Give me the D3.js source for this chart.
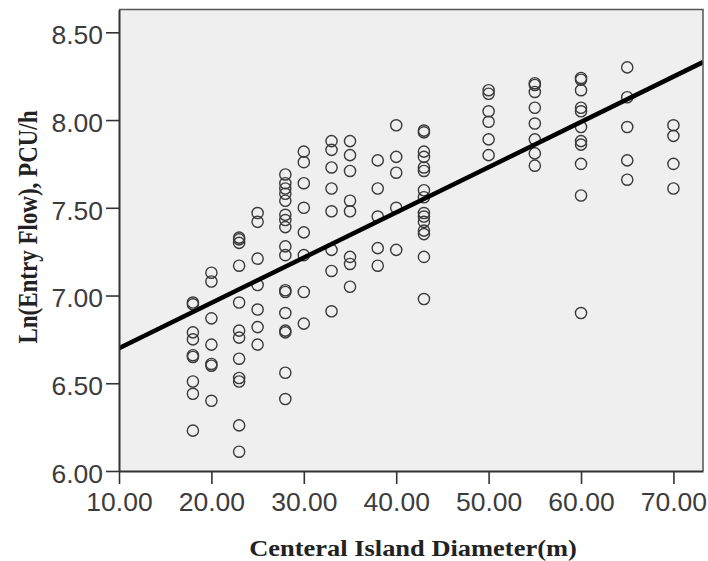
<!DOCTYPE html>
<html>
<head>
<meta charset="utf-8">
<script src="https://cdn.jsdelivr.net/npm/d3@7"></script>
<style>
  html, body { margin: 0; padding: 0; background: #ffffff; }
  svg { display: block; }
</style>
</head>
<body>
<svg id="chart" width="708" height="561"></svg>
<script>
// ---- data ----
const diameters = [18, 20, 23, 25, 28, 30, 33, 35, 38, 40, 43, 50, 55, 60, 65, 70];
const flow18 = [6.96, 6.95, 6.79, 6.75, 6.66, 6.65, 6.51, 6.44, 6.23];
const flow20 = [7.13, 7.08, 6.87, 6.72, 6.61, 6.60, 6.40];
const flow23 = [7.33, 7.32, 7.30, 7.17, 6.96, 6.80, 6.76, 6.64, 6.53, 6.51, 6.26, 6.11];
const flow25 = [7.47, 7.42, 7.21, 7.06, 6.92, 6.82, 6.72];
const flow28 = [7.69, 7.64, 7.61, 7.58, 7.54, 7.46, 7.43, 7.39, 7.28, 7.23, 7.03, 7.02, 6.90, 6.80, 6.79, 6.56, 6.41];
const flow30 = [7.82, 7.76, 7.64, 7.50, 7.36, 7.23, 7.02, 6.84];
const flow33 = [7.88, 7.83, 7.73, 7.61, 7.48, 7.26, 7.14, 6.91];
const flow35 = [7.88, 7.80, 7.71, 7.54, 7.48, 7.22, 7.18, 7.05];
const flow38 = [7.77, 7.61, 7.45, 7.27, 7.17];
const flow40 = [7.97, 7.79, 7.70, 7.50, 7.26];
const flow43 = [7.94, 7.93, 7.82, 7.79, 7.73, 7.71, 7.60, 7.56, 7.47, 7.45, 7.42, 7.37, 7.35, 7.22, 6.98];
const flow50 = [8.17, 8.15, 8.05, 7.99, 7.89, 7.80];
const flow55 = [8.21, 8.20, 8.16, 8.07, 7.98, 7.89, 7.81, 7.74];
const flow60 = [8.24, 8.23, 8.17, 8.07, 8.05, 7.96, 7.88, 7.86, 7.75, 7.57, 6.90];
const flow65 = [8.30, 8.13, 7.96, 7.77, 7.66];
const flow70 = [7.97, 7.91, 7.75, 7.61];
const flowColumns = [flow18, flow20, flow23, flow25, flow28, flow30, flow33, flow35, flow38, flow40, flow43, flow50, flow55, flow60, flow65, flow70];

// fit line end points (x, ln flow)
const fitX = [10, 73.2];
const fitY = [6.70, 8.33];

const xTicks = [10, 20, 30, 40, 50, 60, 70];
const yTicks = [6.0, 6.5, 7.0, 7.5, 8.0, 8.5];
const xTitle = "Centeral Island Diameter(m)";
const yTitle = "Ln(Entry Flow), PCU/h";

// ---- layout ----
const plot = { left: 119, right: 703, top: 9.5, bottom: 471 };
const svg = d3.select("#chart");

const x = d3.scaleLinear().domain([10, 73.2]).range([plot.left, plot.right]);
const y = d3.scaleLinear().domain([6.0, 8.63]).range([plot.bottom, plot.top]);

const points = [];
diameters.forEach((d, i) => flowColumns[i].forEach(v => points.push({ d, v })));

// plot background
svg.append("rect")
  .attr("x", plot.left).attr("y", plot.top)
  .attr("width", plot.right - plot.left).attr("height", plot.bottom - plot.top)
  .attr("fill", "#efefef");

svg.append("clipPath").attr("id", "clip")
  .append("rect")
  .attr("x", plot.left).attr("y", plot.top)
  .attr("width", plot.right - plot.left).attr("height", plot.bottom - plot.top);

// points
svg.append("g")
  .selectAll("circle")
  .data(points)
  .join("circle")
  .attr("cx", p => x(p.d))
  .attr("cy", p => y(p.v))
  .attr("r", 5.6)
  .attr("fill", "none")
  .attr("stroke", "#3a3a3a")
  .attr("stroke-width", 1.4);

// fit line
svg.append("path")
  .datum(fitX.map((v, i) => [v, fitY[i]]))
  .attr("clip-path", "url(#clip)")
  .attr("d", d3.line().x(p => x(p[0])).y(p => y(p[1])))
  .attr("fill", "none")
  .attr("stroke", "#000")
  .attr("stroke-width", 4.5);

// frame (top and right)
svg.append("path")
  .attr("d", `M${plot.left},${plot.top}H${plot.right}V${plot.bottom}`)
  .attr("fill", "none")
  .attr("stroke", "#555")
  .attr("stroke-width", 1.5);

const fmt = d3.format(".2f");

// axes
const gx = svg.append("g")
  .attr("transform", `translate(0,${plot.bottom})`)
  .call(d3.axisBottom(x).tickValues(xTicks).tickFormat(fmt).tickSize(13).tickPadding(9).tickSizeOuter(0));
const gy = svg.append("g")
  .attr("transform", `translate(${plot.left},0)`)
  .call(d3.axisLeft(y).tickValues(yTicks).tickFormat(fmt).tickSize(13).tickPadding(3).tickSizeOuter(0));

[gx, gy].forEach(g => {
  g.select(".domain").attr("stroke", "#333").attr("stroke-width", 2);
  g.selectAll(".tick line").attr("stroke", "#333").attr("stroke-width", 1.6);
  g.selectAll(".tick text")
    .attr("fill", "#3c3c3c")
    .style("font-family", "Arial, 'Liberation Sans', sans-serif")
    .style("font-size", "25px");
});
gy.selectAll(".tick text").attr("dy", "0.45em");

// slight horizontal stretch of tick labels, as in the reference
svg.selectAll(".tick text").each(function () {
  const w = this.getComputedTextLength();
  d3.select(this).attr("textLength", w * 1.06).attr("lengthAdjust", "spacingAndGlyphs");
});

// axis titles
const xt = svg.append("text")
  .attr("x", (plot.left + plot.right) / 2 + 2)
  .attr("y", 556)
  .attr("text-anchor", "middle")
  .style("font-family", "'Times New Roman', 'Liberation Serif', serif")
  .style("font-weight", "bold")
  .style("font-size", "23px")
  .attr("fill", "#222")
  .text(xTitle);
const xw = xt.node().getComputedTextLength();
xt.attr("textLength", xw * 1.15).attr("lengthAdjust", "spacingAndGlyphs");

svg.append("text")
  .attr("transform", `translate(37,227) rotate(-90) scale(1,1.15)`)
  .attr("text-anchor", "middle")
  .style("font-family", "'Times New Roman', 'Liberation Serif', serif")
  .style("font-weight", "bold")
  .style("font-size", "23px")
  .attr("fill", "#222")
  .text(yTitle);
</script>
</body>
</html>
